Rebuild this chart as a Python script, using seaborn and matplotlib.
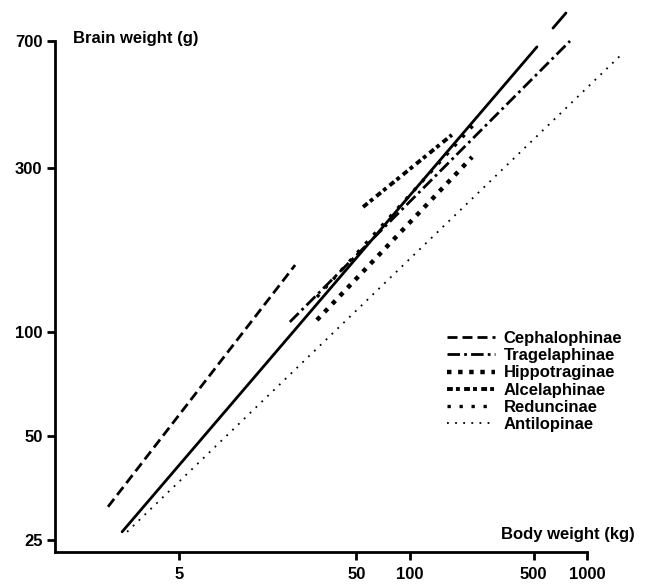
import matplotlib
matplotlib.use("Agg")
import matplotlib.pyplot as plt
from matplotlib.ticker import NullLocator, FixedLocator, FixedFormatter
import seaborn as sns

# fitted allometric lines, read as end points (body kg, brain g)
subfamilies = ["Cephalophinae", "Tragelaphinae", "Hippotraginae",
               "Alcelaphinae", "Reduncinae", "Antilopinae"]
body_lo = [1.99, 21.1, 30.0, 54.6, 30.0, 2.55]
body_hi = [22.6, 802, 225, 173, 240, 1596]
brain_lo = [31.2, 107.2, 108.6, 231, 126.6, 26.4]
brain_hi = [156.8, 700, 322.6, 374, 410, 646]

# all bovids (solid line, no legend entry)
all_body = [2.39, 522]
all_brain = [26.4, 673]
all_body_tail = [643, 761]
all_brain_tail = [763, 844]

x_ticks = [5, 50, 100, 500, 1000]
y_ticks = [25, 50, 100, 300, 700]

styles = {
    "Cephalophinae": dict(lw=2.0, linestyle=(0, (3.6, 1.8))),
    "Tragelaphinae": dict(lw=2.0, linestyle=(0, (4.5, 1.5, 1.0, 1.5))),
    "Hippotraginae": dict(lw=3.2, linestyle=(0, (1.0, 1.5))),
    "Alcelaphinae": dict(lw=2.8, linestyle=(0, (1.5, 0.8, 1.0, 1.1))),
    "Reduncinae": dict(lw=2.4, linestyle=(0, (1.0, 2.6))),
    "Antilopinae": dict(lw=1.3, linestyle=(0, (1.0, 3.5))),
}

sns.set_theme(style="ticks")
plt.rcParams["font.family"] = ["Liberation Sans", "DejaVu Sans"]
plt.rcParams["text.color"] = "black"

fig = plt.figure(figsize=(6.48, 5.84), dpi=100)
ax = fig.add_axes([55 / 648, 32 / 584, 532 / 648, 511 / 584])

sns.lineplot(x=all_body, y=all_brain, ax=ax, color="black", lw=2.0,
             legend=False, clip_on=False)
sns.lineplot(x=all_body_tail, y=all_brain_tail, ax=ax, color="black", lw=2.0,
             legend=False, clip_on=False)

for i, name in enumerate(subfamilies):
    sns.lineplot(x=[body_lo[i], body_hi[i]], y=[brain_lo[i], brain_hi[i]],
                 ax=ax, color="black", label=name, clip_on=False,
                 **styles[name])

ax.set_xscale("log")
ax.set_yscale("log")
ax.set_xlim(1, 1000)
ax.set_ylim(23.07, 700)

ax.xaxis.set_major_locator(FixedLocator(x_ticks))
ax.xaxis.set_major_formatter(FixedFormatter([str(t) for t in x_ticks]))
ax.yaxis.set_major_locator(FixedLocator(y_ticks))
ax.yaxis.set_major_formatter(FixedFormatter([str(t) for t in y_ticks]))
ax.xaxis.set_minor_locator(NullLocator())
ax.yaxis.set_minor_locator(NullLocator())

ax.tick_params(axis="both", direction="out", length=6, width=2,
               labelsize=12, pad=3, colors="black")
ax.tick_params(axis="x", pad=5)
for lab in ax.get_xticklabels() + ax.get_yticklabels():
    lab.set_fontweight("bold")
for s in ["top", "right"]:
    ax.spines[s].set_visible(False)
for s in ["left", "bottom"]:
    ax.spines[s].set_linewidth(2)
    ax.spines[s].set_color("black")
ax.set_xlabel("")
ax.set_ylabel("")

fig.text(73 / 648, 1 - 38 / 584, "Brain weight (g)", ha="left", va="center",
         fontsize=12, fontweight="bold", color="black")
fig.text(635 / 648, 1 - 535 / 584, "Body weight (kg)", ha="right",
         va="center", fontsize=12, fontweight="bold", color="black")

ax.legend(loc="upper left", bbox_to_anchor=(447 / 648, 1 - 331 / 584),
          bbox_transform=fig.transFigure, frameon=False, fontsize=12,
          handlelength=2.9, handletextpad=0.5, labelspacing=0.13,
          borderaxespad=0, borderpad=0)
for t in ax.get_legend().get_texts():
    t.set_fontweight("bold")
    t.set_color("black")

fig.savefig("out.png", dpi=100)
